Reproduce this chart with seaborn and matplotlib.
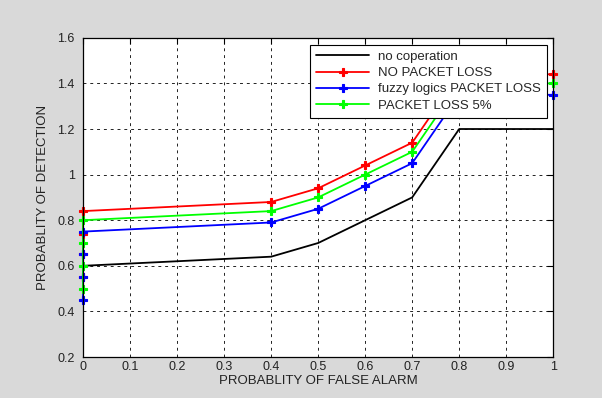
import numpy as np
import pandas as pd
import matplotlib
matplotlib.use("Agg")
import matplotlib.pyplot as plt
import seaborn as sns
from matplotlib.ticker import FuncFormatter

# data
x_black = [0, 0.4, 0.5, 0.6, 0.7, 0.8, 1.0]
y_black = [0.60, 0.64, 0.70, 0.80, 0.90, 1.20, 1.20]

x_col = [0, 0, 0, 0, 0.4, 0.5, 0.6, 0.7, 0.8, 1.0]
y_red = [0.55, 0.65, 0.74, 0.84, 0.88, 0.94, 1.04, 1.14, 1.44, 1.44]
y_blue = [0.45, 0.55, 0.65, 0.75, 0.79, 0.85, 0.95, 1.05, 1.35, 1.35]
y_green = [0.50, 0.60, 0.70, 0.80, 0.84, 0.90, 1.00, 1.10, 1.40, 1.40]

labels = ["no coperation", "NO PACKET LOSS", "fuzzy logics PACKET LOSS", "PACKET LOSS 5%"]
xticks = [0, 0.1, 0.2, 0.3, 0.4, 0.5, 0.6, 0.7, 0.8, 0.9, 1.0]
yticks = [0.2, 0.4, 0.6, 0.8, 1.0, 1.2, 1.4, 1.6]

sns.set_style("white")
plt.rcParams["font.family"] = ["Liberation Sans", "DejaVu Sans"]

fig = plt.figure(figsize=(6.02, 3.98), dpi=100, facecolor="#d9d9d9")
ax = fig.add_axes([0.138, 0.103, 0.781, 0.802])
ax.set_facecolor("white")

df_black = pd.DataFrame({"x": x_black, "y": y_black})
sns.lineplot(data=df_black, x="x", y="y", ax=ax, color="black", lw=1.3,
             sort=False, estimator=None, label=labels[0])

for yv, col, lab in [(y_red, "#ff0000", labels[1]),
                     (y_blue, "#0000ff", labels[2]),
                     (y_green, "#00ff00", labels[3])]:
    d = pd.DataFrame({"x": x_col, "y": yv})
    sns.lineplot(data=d, x="x", y="y", ax=ax, color=col, lw=1.3, sort=False,
                 estimator=None, label=lab)

for line, col in zip(ax.get_lines()[1:4], ["#ff0000", "#0000ff", "#00ff00"]):
    line.set_marker("P")
    line.set_markersize(6)
    line.set_markerfacecolor(col)
    line.set_markeredgecolor(col)
    line.set_markeredgewidth(0.8)

for line in ax.get_lines():
    line.set_clip_on(False)
    line.set_zorder(3)

ax.set_xlim(0, 1)
ax.set_ylim(0.2, 1.6)
ax.set_xticks(xticks)
ax.set_yticks(yticks)
fmt = FuncFormatter(lambda v, p: "%g" % v)
ax.xaxis.set_major_formatter(fmt)
ax.yaxis.set_major_formatter(fmt)
ax.tick_params(direction="in", length=4, width=0.8, top=True, right=True,
               labelsize=9, labelcolor="#222222", colors="black", pad=3)
ax.tick_params(axis="y", pad=6)
ax.grid(True, color="#222222", linestyle=(0, (3, 4)), linewidth=0.7)
ax.set_axisbelow(True)
for s in ax.spines.values():
    s.set_color("black")
    s.set_linewidth(0.9)
    s.set_visible(True)
    s.set_zorder(4)

ax.set_xlabel("PROBABLITY OF FALSE ALARM", fontsize=9.5, color="#222222", labelpad=1)
ax.set_ylabel("PROBABLITY OF DETECTION", fontsize=9.5, color="#222222", labelpad=6)

leg = ax.legend(loc="upper right", bbox_to_anchor=(0.987, 0.978), fontsize=9.5,
                frameon=True, fancybox=False, framealpha=1, edgecolor="black",
                numpoints=1, handlelength=4.0, borderpad=0.45, labelspacing=0.3,
                handletextpad=0.7, borderaxespad=0)
leg.get_frame().set_linewidth(0.8)
leg.set_zorder(5)

fig.savefig("out.png", dpi=100, facecolor=fig.get_facecolor())
